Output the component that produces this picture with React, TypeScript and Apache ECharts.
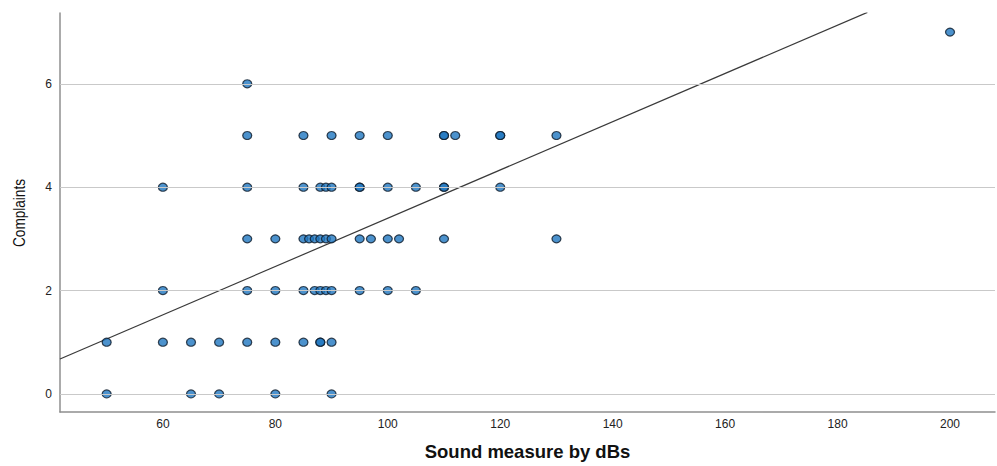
import React, { useEffect, useRef } from "react";
import * as echarts from "echarts";

// Scatter data: [sound measure (dB), complaints]
const complaints0 = [50, 65, 70, 80, 90];
const complaints1 = [50, 60, 65, 70, 75, 80, 85, 88, 88, 90];
const complaints2 = [60, 75, 80, 85, 87, 88, 89, 90, 95, 100, 105];
const complaints3 = [75, 80, 85, 86, 87, 88, 89, 90, 95, 97, 100, 102, 110, 130];
const complaints4 = [60, 75, 85, 88, 89, 90, 95, 95, 100, 105, 110, 110, 120];
const complaints5 = [75, 85, 90, 95, 100, 110, 110, 112, 120, 120, 130];
const complaints6 = [75];
const complaints7 = [200];

const xTicks = [60, 80, 100, 120, 140, 160, 180, 200];
const yTicks = [0, 2, 4, 6];

// Fit line
const fitSlope = 0.0467;
const fitIntercept = -1.271;
const fitXStart = 41.7;
const fitXEnd = 185.3;

const xMin = 41.7;
const xMax = 208;
const yMin = -0.35;
const yMax = 7.37;

export default function App() {
  const ref = useRef<HTMLDivElement>(null);

  useEffect(() => {
    if (!ref.current) return;
    const chart = echarts.init(ref.current, undefined, { renderer: "svg" });

    const rows = [complaints0, complaints1, complaints2, complaints3, complaints4, complaints5, complaints6, complaints7];
    const points: number[][] = [];
    rows.forEach((row, y) => row.forEach((x) => points.push([x, y])));

    const fitLine = [
      [fitXStart, fitIntercept + fitSlope * fitXStart],
      [fitXEnd, fitIntercept + fitSlope * fitXEnd],
    ];

    const font = "'Liberation Sans', Arial, Helvetica, sans-serif";

    chart.setOption({
      animation: false,
      backgroundColor: "#ffffff",
      grid: { left: 60, right: 2, top: 13, bottom: 53, containLabel: false },
      graphic: [
        {
          type: "text",
          x: 19,
          y: 213,
          rotation: Math.PI / 2,
          scaleX: 0.8,
          style: {
            text: "Complaints",
            font: "17px 'Liberation Sans', Arial, sans-serif",
            fill: "#111",
            align: "center",
            verticalAlign: "middle",
          },
        },
      ],
      xAxis: {
        type: "value",
        min: xMin,
        max: xMax,
        name: "Sound measure by dBs",
        nameLocation: "middle",
        nameGap: 30,
        nameTextStyle: { fontFamily: font, fontSize: 18.5, fontWeight: "bold", color: "#111" },
        axisLine: { show: true, onZero: false, lineStyle: { color: "#8f8f8f", width: 1.5 } },
        axisTick: { show: false },
        splitLine: { show: false },
        axisLabel: {
          customValues: xTicks,
          color: "#222",
          fontFamily: font,
          fontSize: 12,
          margin: 6,
        },
      },
      yAxis: {
        type: "value",
        min: yMin,
        max: yMax,
        axisLine: { show: true, onZero: false, lineStyle: { color: "#8f8f8f", width: 1.5 } },
        axisTick: { show: false },
        splitLine: { show: false },
        axisLabel: {
          customValues: yTicks,
          color: "#222",
          fontFamily: font,
          fontSize: 12,
          margin: 8,
        },
      },
      series: [
        {
          type: "line",
          data: yTicks.map((t) => [xMin, t]),
          symbol: "none",
          lineStyle: { opacity: 0 },
          silent: true,
          z: 1,
          markLine: {
            silent: true,
            symbol: ["none", "none"],
            label: { show: false },
            lineStyle: { color: "#c9c9c9", width: 1.2, type: "solid" },
            data: yTicks.map((t) => ({ yAxis: t })),
          },
        },
        {
          type: "line",
          data: fitLine,
          symbol: "none",
          lineStyle: { color: "#3a3a3a", width: 1.2 },
          silent: true,
          z: 2,
        },
        {
          type: "scatter",
          data: points,
          symbol: "circle",
          symbolSize: [9, 8],
          itemStyle: { color: "#1f77c0", borderColor: "#0e1c2a", borderWidth: 1.2 },
          z: 3,
        },
      ],
    });

    return () => chart.dispose();
  }, []);

  return (
    <div
      ref={ref}
      style={{ position: "fixed", left: 0, top: 0, width: 997, height: 466 }}
    />
  );
}
